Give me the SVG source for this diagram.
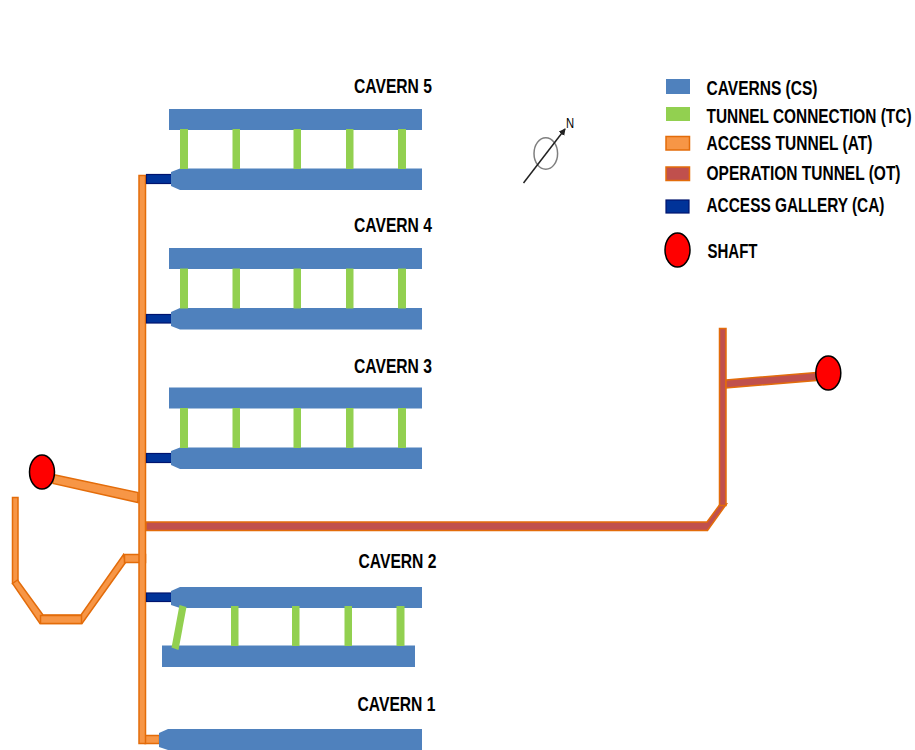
<svg xmlns="http://www.w3.org/2000/svg" width="915" height="750" viewBox="0 0 915 750">
<style>
.cs{fill:#4f81bd}
.tc{fill:#92d050}
.at{fill:#f79646;stroke:#e36c0a;stroke-width:1.5}
.ot{fill:#c0504d;stroke:#e36c0a;stroke-width:1.5}
.ca{fill:#003399;stroke:#00146e;stroke-width:1.2}
.shaft{fill:#ff0000;stroke:#000;stroke-width:1.5}
text{font-family:"Liberation Sans",Arial,sans-serif;font-weight:bold;font-size:19.5px;fill:#000}
</style>
<defs>
<marker id="arrow" markerWidth="8" markerHeight="8" refX="6" refY="3.5" orient="auto" markerUnits="userSpaceOnUse"><path d="M0,0L7,3.5L0,7Z" fill="#222"/></marker>
</defs>
<rect width="915" height="750" fill="#fff"/>
<g id="connectors">
<polygon class="at" points="53,474.500 138,492.500 138,502.500 53,483.500"/>
<rect class="at" x="12.500" y="497.500" width="5.500" height="86"/>
<polygon class="at" points="12.500,583.500 17.500,580 43,615 81,615 123.500,554.500 125.500,562.500 82,623.500 40,623.500"/>
<rect class="at" x="40.500" y="615.500" width="41" height="8"/>
<rect class="at" x="124.500" y="554.500" width="21" height="8"/>
<rect class="at" x="145" y="735.500" width="14.500" height="8"/>
<rect class="at" x="139" y="175.500" width="6.500" height="568"/>
<polygon class="ot" points="146,522 707,522 719.500,505 726.500,504 707.500,530.500 146,530.500"/>
<rect class="ot" x="719.500" y="328.500" width="6.500" height="177"/>
<polygon class="ot" points="726,380 816,372.500 816,380.500 726,388"/>
<rect class="ca" x="146.500" y="174.500" width="25" height="9"/>
<rect class="ca" x="146.500" y="314.500" width="25" height="8.500"/>
<rect class="ca" x="146.500" y="453.500" width="25" height="9"/>
<rect class="ca" x="146.500" y="593" width="25" height="8.500"/>
</g>
<g id="cavern-5">
<rect class="cs" x="169" y="109" width="253" height="21"/>
<polygon class="cs" points="171,172 180,168.500 422,168.500 422,190 180,190 171,186"/>
<rect class="tc" x="180" y="129" width="8" height="40"/><rect class="tc" x="232.500" y="129" width="7.500" height="40"/><rect class="tc" x="293.500" y="129" width="7.500" height="40"/><rect class="tc" x="346" y="129" width="7.500" height="40"/><rect class="tc" x="398" y="129" width="8" height="40"/>
<text transform="translate(354,93) scale(.79,1)" textLength="98.700" lengthAdjust="spacingAndGlyphs">CAVERN 5</text>
</g>
<g id="cavern-4">
<rect class="cs" x="169" y="248" width="253" height="21"/>
<polygon class="cs" points="171,312 180,308 422,308 422,329.500 180,329.500 171,326"/>
<rect class="tc" x="180" y="268.500" width="8" height="40"/><rect class="tc" x="232.500" y="268.500" width="7.500" height="40"/><rect class="tc" x="293.500" y="268.500" width="7.500" height="40"/><rect class="tc" x="346" y="268.500" width="7.500" height="40"/><rect class="tc" x="398" y="268.500" width="8" height="40"/>
<text transform="translate(354,232) scale(.79,1)" textLength="98.700" lengthAdjust="spacingAndGlyphs">CAVERN 4</text>
</g>
<g id="cavern-3">
<rect class="cs" x="169" y="387.500" width="253" height="21"/>
<polygon class="cs" points="171,451 180,447.500 422,447.500 422,469 180,469 171,465"/>
<rect class="tc" x="180" y="408" width="8" height="40"/><rect class="tc" x="232.500" y="408" width="7.500" height="40"/><rect class="tc" x="293.500" y="408" width="7.500" height="40"/><rect class="tc" x="346" y="408" width="7.500" height="40"/><rect class="tc" x="398" y="408" width="8" height="40"/>
<text transform="translate(354,373) scale(.79,1)" textLength="98.700" lengthAdjust="spacingAndGlyphs">CAVERN 3</text>
</g>
<g id="cavern-2">
<polygon class="cs" points="171,591 180,587 422,587 422,608 180,608 171,605"/>
<rect class="cs" x="162" y="645.500" width="253" height="21.500"/>
<polygon class="tc" points="179.500,605 186.500,607 178.500,650 171.500,647.500"/>
<rect class="tc" x="231" y="606" width="7.500" height="40"/><rect class="tc" x="292" y="606" width="7.500" height="40"/><rect class="tc" x="344.500" y="606" width="7.500" height="40"/><rect class="tc" x="396.500" y="606" width="8" height="40"/>
<text transform="translate(358.500,568) scale(.79,1)" textLength="98.700" lengthAdjust="spacingAndGlyphs">CAVERN 2</text>
</g>
<g id="cavern-1">
<polygon class="cs" points="159,733 168,729 422,729 422,750 168,750 159,747"/>
<text transform="translate(357.500,711) scale(.79,1)" textLength="98.700" lengthAdjust="spacingAndGlyphs">CAVERN 1</text>
</g>
<g id="shaft-west"><ellipse class="shaft" cx="42" cy="472" rx="12.500" ry="17"/></g>
<g id="shaft-east"><ellipse class="shaft" cx="828.300" cy="373" rx="12.500" ry="17"/></g>
<g id="north-arrow">
<ellipse cx="545.800" cy="153.500" rx="11.800" ry="15.800" fill="none" stroke="#7f7f7f" stroke-width="1.500"/>
<line x1="523.500" y1="183" x2="565" y2="129" stroke="#222" stroke-width="1.500" marker-end="url(#arrow)"/>
<text transform="translate(566,128) scale(.75,1)" style="font-size:15px;font-weight:normal">N</text>
</g>
<g id="legend">
<rect class="cs" x="666" y="79" width="24" height="15"/>
<rect class="tc" x="666" y="107" width="24" height="14"/>
<rect class="at" x="666" y="136.500" width="23.500" height="13.500"/>
<rect class="ot" x="666" y="167" width="23.500" height="13.500"/>
<rect class="ca" x="666" y="200" width="23" height="13"/>
<ellipse class="shaft" cx="677.500" cy="250" rx="12.500" ry="17"/>
<text transform="translate(706.500,95) scale(.79,1)" textLength="140.500" lengthAdjust="spacingAndGlyphs">CAVERNS (CS)</text>
<text transform="translate(706.500,123) scale(.79,1)" textLength="259.500" lengthAdjust="spacingAndGlyphs">TUNNEL CONNECTION (TC)</text>
<text transform="translate(706.500,150) scale(.79,1)" textLength="210" lengthAdjust="spacingAndGlyphs">ACCESS TUNNEL (AT)</text>
<text transform="translate(706.500,180) scale(.79,1)" textLength="245.600" lengthAdjust="spacingAndGlyphs">OPERATION TUNNEL (OT)</text>
<text transform="translate(706.500,212) scale(.79,1)" textLength="225.300" lengthAdjust="spacingAndGlyphs">ACCESS GALLERY (CA)</text>
<text transform="translate(707.500,258) scale(.79,1)" textLength="63.300" lengthAdjust="spacingAndGlyphs">SHAFT</text>
</g>
</svg>
